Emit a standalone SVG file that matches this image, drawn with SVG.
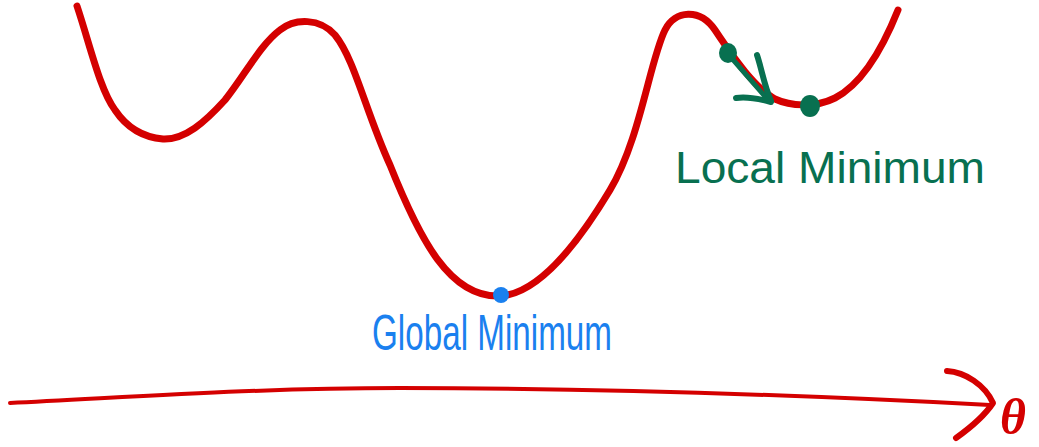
<svg xmlns="http://www.w3.org/2000/svg" width="1039" height="447" viewBox="0 0 1039 447">
<style>
.red{fill:none;stroke:#d40000;stroke-linecap:round;stroke-linejoin:round}
.grn{fill:none;stroke:#087050;stroke-linecap:round;stroke-linejoin:round}
.lbl{font-family:"Liberation Sans",Arial,sans-serif}
</style>
<rect width="1039" height="447" fill="#fff"/>
<g id="curve">
<path class="red" stroke-width="7" d="M77,6 C90,45 100,90 115,110 C125,125 140,137 163,139 C185,140 205,122 225,100 C245,75 260,45 280,30 C295,18 320,18 335,35 C355,60 365,110 390,165 C420,240 450,298 500,296 C540,294 580,240 610,190 C640,140 650,60 665,30 C675,10 700,8 715,30 C735,60 755,88 775,99 C790,106 815,108 835,98 C860,85 880,55 898,10"/>
</g>
<g id="axis">
<path class="red" stroke-width="4" d="M10,403 C120,398 250,388 400,388 C600,388 800,395 990,405"/>
<path class="red" stroke-width="6" d="M947,371 C965,372 985,385 993,403 C985,415 970,428 956,438"/>
<text x="1000" y="434" font-family="Liberation Serif" font-style="italic" font-weight="bold" font-size="50" fill="#d40000">θ</text>
</g>
<g id="global-minimum">
<circle cx="501" cy="295" r="8" fill="#1a80ef"/>
<text class="lbl" x="372" y="350" font-size="50" fill="#1a80ef" textLength="240" lengthAdjust="spacingAndGlyphs">Global Minimum</text>
</g>
<g id="local-minimum">
<path class="grn" stroke-width="5" d="M729,55 L769,101"/>
<path class="grn" stroke-width="6" d="M757,55 C762,70 764,85 771,101 M736,98 C748,96 760,99 771,102"/>
<ellipse cx="728" cy="53" rx="9" ry="10" fill="#087050"/>
<ellipse cx="810" cy="106" rx="10" ry="11" fill="#087050"/>
<text class="lbl" x="675" y="183" font-size="44" fill="#087050" textLength="310" lengthAdjust="spacingAndGlyphs">Local Minimum</text>
</g>
</svg>
